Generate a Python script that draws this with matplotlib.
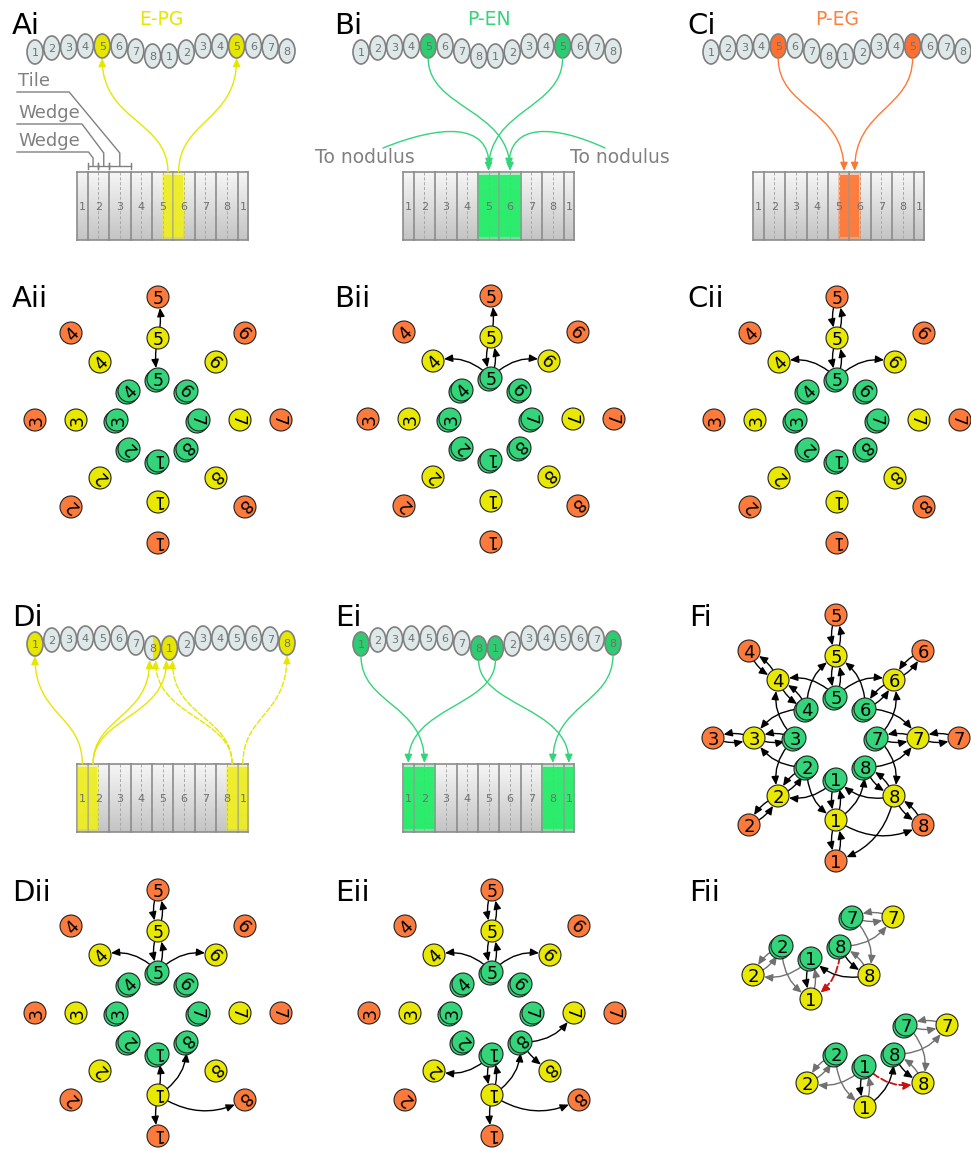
import matplotlib.pyplot as plt
import numpy as np
from matplotlib.colors import LinearSegmentedColormap
from matplotlib.patches import Ellipse, Circle, Rectangle, FancyArrowPatch
from matplotlib.path import Path

# ---------------- data ----------------
PB_LABELS = ['1', '2', '3', '4', '5', '6', '7', '8', '1', '2', '3', '4', '5', '6', '7', '8']
TILE_LABELS = ['1', '2', '3', '4', '5', '6', '7', '8', '1']
NODE_IDS = ['1', '2', '3', '4', '5', '6', '7', '8']

# top panels: lit PB glomeruli, stripes (first wedge, last wedge), links (glomerulus, stripe, dashed)
AI_GLOM = [4, 12]
AI_STRIPES = [(8, 8), (9, 9)]
AI_LINKS = [(4, 0, False), (12, 1, False)]
BI_GLOM = [4, 12]
BI_STRIPES = [(7, 8), (9, 10)]
BI_LINKS = [(4, 1, False), (12, 0, False)]
CI_GLOM = [4, 12]
CI_STRIPES = [(8, 8), (9, 9)]
CI_LINKS = [(4, 0, False), (12, 1, False)]
DI_GLOM = [0, 8, 15]
DI_HALF = [7]
DI_STRIPES = [(0, 0), (1, 1), (14, 14), (15, 15)]
DI_LINKS = [(0, 0, False), (8, 1, False), (7, 1, False), (7, 2, True), (8, 2, True), (15, 3, True)]
EI_GLOM = [0, 7, 8, 15]
EI_STRIPES = [(0, 0), (1, 2), (13, 14), (15, 15)]
EI_LINKS = [(0, 1, False), (8, 0, False), (7, 3, False), (15, 2, False)]

# ring diagrams: directed connections (o = outer, y = middle, g = inner)
AII_EDGES = [('y5', 'o5'), ('y5', 'g5')]
BII_EDGES = [('y5', 'o5'), ('y5', 'g5'), ('g5', 'y5'), ('g5', 'y4'), ('g5', 'y6')]
CII_EDGES = [('y5', 'o5'), ('o5', 'y5'), ('y5', 'g5'), ('g5', 'y5'), ('g5', 'y4'), ('g5', 'y6')]
DII_EDGES = [('y5', 'o5'), ('o5', 'y5'), ('y5', 'g5'), ('g5', 'y5'), ('g5', 'y4'), ('g5', 'y6'),
             ('y1', 'o1'), ('y1', 'g1'), ('y1', 'g8'), ('y1', 'o8')]
EII_EDGES = [('y5', 'o5'), ('o5', 'y5'), ('y5', 'g5'), ('g5', 'y5'), ('g5', 'y4'), ('g5', 'y6'),
             ('y1', 'o1'), ('y1', 'g1'), ('g1', 'y1'), ('g1', 'y2'), ('y1', 'g8'),
             ('g8', 'y7'), ('g8', 'y8'), ('y1', 'o8')]
FI_PAIRS = [('o1', 'y1'), ('y1', 'g1'), ('o2', 'y2'), ('y2', 'g2'), ('o3', 'y3'), ('y3', 'g3'),
            ('o4', 'y4'), ('y4', 'g4'), ('o5', 'y5'), ('y5', 'g5'), ('o6', 'y6'), ('y6', 'g6'),
            ('o7', 'y7'), ('y7', 'g7'), ('o8', 'y8'), ('y8', 'g8')]
FI_ONEWAY = [('g5', 'y4'), ('g5', 'y6'), ('g4', 'y5'), ('g6', 'y5'), ('g4', 'y3'), ('g3', 'y4'),
             ('g6', 'y7'), ('g7', 'y6'), ('g3', 'y2'), ('g2', 'y3'), ('g7', 'y8'), ('g8', 'y7'),
             ('g2', 'y1'), ('g1', 'y2'), ('y1', 'g8'), ('y8', 'g1'), ('y1', 'o8'), ('y8', 'o1')]
FII_NODES = ['g7', 'y7', 'g2', 'g8', 'g1', 'y2', 'y8', 'y1']
FII_TOP_EDGES = [('g2', 'y2', 'gray'), ('y2', 'g2', 'gray'), ('g2', 'y1', 'gray'), ('g1', 'y2', 'gray'),
                 ('g1', 'y1', 'black'), ('y1', 'g1', 'gray'), ('g8', 'y1', 'red'), ('y8', 'g1', 'black'),
                 ('g8', 'y8', 'black'), ('y8', 'g8', 'gray'), ('g8', 'y7', 'gray'),
                 ('g7', 'y7', 'gray'), ('y7', 'g7', 'gray'), ('g7', 'y8', 'gray')]
FII_BOT_EDGES = [('g2', 'y2', 'gray'), ('y2', 'g2', 'gray'), ('g2', 'y1', 'gray'), ('g1', 'y2', 'gray'),
                 ('g1', 'y1', 'black'), ('y1', 'g1', 'gray'), ('y1', 'g8', 'black'), ('g1', 'y8', 'red'),
                 ('g8', 'y8', 'black'), ('y8', 'g8', 'gray'), ('g8', 'y7', 'gray'),
                 ('g7', 'y7', 'gray'), ('y7', 'g7', 'gray'), ('g7', 'y8', 'gray')]

# ---------------- style / layout ----------------
W, H = 971, 1151
ORANGE, YELLOW, GREEN = '#fb7a3c', '#e8e800', '#33d47a'
PB_FACE = '#dfe8e8'
EDGE_COL = {'black': 'black', 'gray': '#707070', 'red': '#cc1111'}
RADII = {'o': 123, 'y': 82, 'g': 41}
NODE_COL = {'o': ORANGE, 'y': YELLOW, 'g': GREEN}
PB_STEP = 16.8
PB_DY = [6, 2, 1, 0, 0, 0, 5, 10, 10, 6, 0, 0, 0, 0, 1, 5]
TILE = 21.4
BOX_H = 68
NODE_R = 11

fig = plt.figure(figsize=(9.71, 11.51), dpi=100)
ax = fig.add_axes([0, 0, 1, 1])
box_cmap = LinearSegmentedColormap.from_list('box', ['#f6f6f6', '#c4c4c4'])
grad = np.linspace(0, 1, 64)[:, None]


def bezier_arrow(p0, p1, color, dashed, up):
    d = abs(p1[1] - p0[1])
    if up:
        verts = [p0, (p0[0], p0[1] - 0.45 * d), (p1[0], p1[1] + 0.55 * d), p1]
    else:
        verts = [p0, (p0[0], p0[1] + 0.45 * d), (p1[0], p1[1] - 0.55 * d), p1]
    path = Path(verts, [Path.MOVETO, Path.CURVE4, Path.CURVE4, Path.CURVE4])
    ax.add_patch(FancyArrowPatch(path=path, arrowstyle='-|>,head_length=5,head_width=2.2',
                                 color=color, lw=1.0, linestyle='--' if dashed else '-', zorder=5))


def top_panel(cx, off, glom, stripes, links, lit, stripe_col, half=(), up=True):
    gx = cx - 7.5 * PB_STEP + np.arange(16) * PB_STEP
    gy = 46 + off + np.array(PB_DY)
    for i, lab in enumerate(PB_LABELS):
        fc = lit if i in glom else PB_FACE
        ax.add_patch(Ellipse((gx[i], gy[i]), 16, 24, fc=fc, ec='none', zorder=3))
        if i in half:
            e = Ellipse((gx[i], gy[i]), 16, 24, fc=lit, ec='none', zorder=3.1)
            ax.add_patch(e)
            e.set_clip_path(Rectangle((gx[i], gy[i] - 13), 9, 26, transform=ax.transData))
        ax.add_patch(Ellipse((gx[i], gy[i]), 16, 24, fc='none', ec='#7f7f7f', lw=1.2, zorder=3.2))
        ax.text(gx[i], gy[i], lab, ha='center', va='center_baseline', fontsize=8,
                color='#707070', zorder=4)
    left, top = cx - 84, 172 + off
    ax.imshow(grad, extent=(left, left + 8 * TILE, top + BOX_H, top), cmap=box_cmap,
              vmin=0, vmax=1, zorder=1, aspect='auto', interpolation='bilinear')
    for f in [0, 0.5, 1.5, 2.5, 3.5, 4.5, 5.5, 6.5, 7.5, 8]:
        ax.plot([left + f * TILE] * 2, [top, top + BOX_H], color='#8c8c8c', lw=1.2, zorder=2)
    for f in range(1, 8):
        ax.plot([left + f * TILE] * 2, [top, top + BOX_H], color='#a8a8a8', lw=0.7,
                ls=(0, (3, 2)), zorder=2)
    ax.plot([left, left + 8 * TILE], [top, top], color='#8c8c8c', lw=1.2, zorder=2)
    ax.plot([left, left + 8 * TILE], [top + BOX_H, top + BOX_H], color='#8c8c8c', lw=1.2, zorder=2)
    for f, lab in zip([0.25, 1, 2, 3, 4, 5, 6, 7, 7.75], TILE_LABELS):
        ax.text(left + f * TILE, top + BOX_H / 2, lab, ha='center', va='center_baseline',
                fontsize=8, color='#707070', zorder=4)
    centers = []
    for w0, w1 in stripes:
        xa, xb = left + w0 * TILE / 2 + 1, left + (w1 + 1) * TILE / 2 - 1
        ax.add_patch(Rectangle((xa - 1.5, top + 1), xb - xa + 3, BOX_H - 2, fc=stripe_col,
                               ec='none', alpha=0.35, zorder=2.5))
        ax.add_patch(Rectangle((xa, top + 3), xb - xa, BOX_H - 6, fc=stripe_col,
                               ec='none', alpha=0.9, zorder=2.6))
        centers.append((xa + xb) / 2)
    for g, s, dashed in links:
        shift = 0
        if len([l for l in links if l[0] == g]) > 1:
            shift = -3 if s < 2 else 3
        pb = (gx[g] + shift, gy[g] + 12)
        bx = (centers[s], top)
        if up:
            bezier_arrow(bx, pb, lit, dashed, True)
        else:
            bezier_arrow(pb, (bx[0], top - 1), stripe_col if stripe_col != '#22ee66' else GREEN,
                         dashed, False)
    return left, top


def node_pos(node, cx, cy):
    a = np.deg2rad(90 + (5 - int(node[1])) * 45)
    r = RADII[node[0]]
    return cx + r * np.cos(a), cy - r * np.sin(a)


def draw_node(node, x, y, fs, rotate):
    kind = node[0]
    if kind == 'g':
        ax.add_patch(Circle((x - 2, y + 2), NODE_R, fc=GREEN, ec='#222222', lw=0.8, zorder=6))
    ax.add_patch(Circle((x, y), NODE_R, fc=NODE_COL[kind], ec='#222222', lw=0.8, zorder=6.5))
    rot = (5 - int(node[1])) * 45 if rotate else 0
    ax.text(x, y, node[1], ha='center', va='center_baseline', fontsize=fs, rotation=rot,
            rotation_mode='anchor', zorder=7)


def draw_edges(edges, pos, center):
    keys = set((e[0], e[1]) for e in edges)
    for e in edges:
        a, b = e[0], e[1]
        col = EDGE_COL[e[2]] if len(e) > 2 else 'black'
        p, q = pos[a], pos[b]
        if (b, a) in keys:
            rad = 0.22
        elif a[1] == b[1]:
            rad = 0.12
        else:
            dx, dy = q[0] - p[0], q[1] - p[1]
            mx, my = (p[0] + q[0]) / 2 - center[0], (p[1] + q[1]) / 2 - center[1]
            rad = 0.3 if (-dy * mx + dx * my) >= 0 else -0.3
        red = len(e) > 2 and e[2] == 'red'
        ax.add_patch(FancyArrowPatch(p, q, connectionstyle=f'arc3,rad={rad}',
                                     arrowstyle='-|>,head_length=5,head_width=2.2',
                                     shrinkA=8, shrinkB=8, color=col, lw=1.3 if red else 1.0,
                                     linestyle='--' if red else '-', zorder=5))


def ring_panel(cx, cy, edges, fs=12.5, rotate=True, nodes=None, layout=None):
    if nodes is None:
        nodes = [k + n for k in 'oyg' for n in NODE_IDS]
    lay = layout if layout else (cx, cy)
    pos = {n: node_pos(n, *lay) for n in nodes}
    if layout:
        pos = {n: (pos[n][0] + cx - lay[0], pos[n][1] + cy - lay[1]) for n in nodes}
    for n in nodes:
        draw_node(n, *pos[n], fs, rotate)
    draw_edges(edges, pos, (cx, cy))


# ---- top panels ----
top_panel(161, 0, AI_GLOM, AI_STRIPES, AI_LINKS, '#e6e600', '#eeee22', up=True)
top_panel(487, 0, BI_GLOM, BI_STRIPES, BI_LINKS, '#2ecc71', '#22ee66', up=False)
top_panel(837, 0, CI_GLOM, CI_STRIPES, CI_LINKS, '#ff7030', '#ff7733', up=False)
top_panel(161, 592, DI_GLOM, DI_STRIPES, DI_LINKS, '#e6e600', '#eeee22', half=DI_HALF, up=True)
top_panel(487, 592, EI_GLOM, EI_STRIPES, EI_LINKS, '#2ecc71', '#22ee66', up=False)

ax.text(161, 25, 'E-PG', ha='center', fontsize=13.5, color='#e6e600')
ax.text(489, 25, 'P-EN', ha='center', fontsize=13.5, color='#33d47a')
ax.text(837, 25, 'P-EG', ha='center', fontsize=13.5, color='#ff7f3f')

# tile / wedge annotation in Ai
GRAY = '#808080'
box_left = 161 - 84
for txt, ty, a0, a1, elbow in [('Tile', 92, 1.5, 2.5, 153), ('Wedge', 124, 1.0, 1.5, 153),
                                ('Wedge', 152, 0.5, 1.0, 158)]:
    xa, xb = box_left + a0 * TILE, box_left + a1 * TILE
    xm = (xa + xb) / 2
    ax.plot([xa, xb], [166, 166], color=GRAY, lw=1)
    ax.plot([xa, xa], [163, 169], color=GRAY, lw=1)
    ax.plot([xb, xb], [163, 169], color=GRAY, lw=1)
    knee = xm - (elbow - ty) * 0.83 if txt == 'Tile' else xm - (elbow - ty) * 0.75
    ax.plot([17, knee, xm, xm], [ty, ty, elbow, 166], color=GRAY, lw=1)
    ax.text(18, ty - 2, txt, fontsize=13, color=GRAY, va='bottom')

# to nodulus in Bi
ax.text(315, 157, 'To nodulus', fontsize=13.5, color=GRAY, va='center')
ax.text(570, 157, 'To nodulus', fontsize=13.5, color=GRAY, va='center')
for p0, p1, p2, p3 in [((383, 148), (440, 125), (489, 122), (489, 167)),
                       ((605, 148), (555, 125), (509, 122), (509, 167))]:
    path = Path([p0, p1, p2, p3], [Path.MOVETO, Path.CURVE4, Path.CURVE4, Path.CURVE4])
    ax.add_patch(FancyArrowPatch(path=path, arrowstyle='-|>,head_length=5,head_width=2.2',
                                 color=GREEN, lw=1.0, zorder=5))

# ---- ring panels ----
ring_panel(158, 420, AII_EDGES)
ring_panel(491, 419, BII_EDGES)
ring_panel(837, 420, CII_EDGES)
ring_panel(158, 1013, DII_EDGES)
ring_panel(492, 1013, EII_EDGES)
fi_edges = FI_PAIRS + [(b, a) for a, b in FI_PAIRS] + FI_ONEWAY
ring_panel(836, 738, fi_edges, fs=13, rotate=False)
ring_panel(811, 917, FII_TOP_EDGES, fs=13, rotate=False, nodes=FII_NODES, layout=(836, 738))
ring_panel(865, 1025, FII_BOT_EDGES, fs=13, rotate=False, nodes=FII_NODES, layout=(836, 738))

# ---- panel letters ----
for lab, x, y in [('Ai', 12, 34), ('Bi', 334, 34), ('Ci', 687, 34),
                  ('Aii', 12, 307), ('Bii', 334, 307), ('Cii', 687, 307),
                  ('Di', 12, 626), ('Ei', 335, 626), ('Fi', 689, 626),
                  ('Dii', 12, 901), ('Eii', 335, 901), ('Fii', 689, 901)]:
    ax.text(x, y, lab, fontsize=21, color='black')

ax.set_xlim(0, W)
ax.set_ylim(H, 0)
ax.set_aspect('equal')
ax.axis('off')
fig.savefig('out.png', dpi=100)
